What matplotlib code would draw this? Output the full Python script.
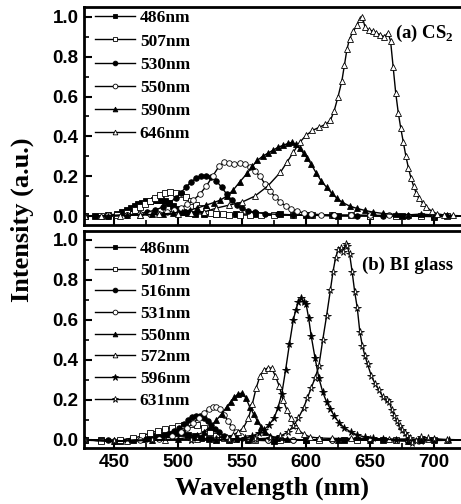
import matplotlib
matplotlib.use("Agg")
import matplotlib.pyplot as plt
from matplotlib.ticker import MultipleLocator
from matplotlib.font_manager import FontProperties

# ---------------- data: panel (a) CS2 ----------------
a_labels = ["486nm", "507nm", "530nm", "550nm", "590nm", "646nm"]

a486_x = [427, 435, 445, 452, 456, 460, 463, 466, 469, 472, 475, 478, 481, 484, 487, 490, 493, 496, 500, 504, 508, 513, 520, 530, 545, 560, 580, 600, 625, 650, 675, 700, 724]
a486_y = [0.0, 0.0, 0.005, 0.01, 0.02, 0.03, 0.04, 0.05, 0.06, 0.068, 0.075, 0.078, 0.08, 0.082, 0.08, 0.075, 0.065, 0.05, 0.035, 0.022, 0.015, 0.012, 0.01, 0.01, 0.01, 0.01, 0.008, 0.005, 0.0, 0.0, 0.0, -0.003, 0.0]

a507_x = [427, 440, 452, 460, 466, 470, 474, 478, 482, 486, 490, 494, 498, 502, 506, 510, 514, 518, 522, 526, 530, 535, 540, 548, 556, 565, 575, 590, 605, 620, 635, 650, 670, 690, 710, 724]
a507_y = [0.0, 0.0, 0.005, 0.015, 0.03, 0.045, 0.06, 0.075, 0.09, 0.105, 0.115, 0.12, 0.118, 0.11, 0.095, 0.075, 0.055, 0.038, 0.025, 0.017, 0.012, 0.008, 0.006, 0.005, 0.005, 0.004, 0.004, 0.004, 0.004, 0.003, 0.003, 0.002, 0.0, 0.0, 0.0, 0.0]

a530_x = [427, 445, 460, 470, 476, 482, 488, 493, 498, 502, 506, 510, 514, 518, 522, 526, 530, 534, 538, 542, 546, 550, 555, 560, 568, 578, 590, 605, 620, 640, 660, 680, 700, 724]
a530_y = [0.0, 0.0, 0.005, 0.012, 0.02, 0.03, 0.045, 0.065, 0.09, 0.115, 0.145, 0.17, 0.19, 0.2, 0.2, 0.195, 0.175, 0.145, 0.11, 0.08, 0.055, 0.038, 0.025, 0.018, 0.012, 0.008, 0.006, 0.004, 0.003, 0.002, 0.0, 0.0, 0.0, 0.0]

a550_x = [427, 445, 460, 470, 478, 485, 491, 497, 502, 507, 512, 517, 522, 527, 532, 536, 540, 544, 548, 552, 556, 560, 564, 568, 572, 576, 580, 584, 588, 593, 598, 604, 612, 622, 635, 650, 665, 680, 700, 724]
a550_y = [0.0, 0.003, 0.006, 0.008, 0.01, 0.012, 0.018, 0.028, 0.04, 0.058, 0.08, 0.11, 0.15, 0.2, 0.25, 0.27, 0.265, 0.26, 0.265, 0.26, 0.245, 0.225, 0.2, 0.16, 0.125, 0.095, 0.07, 0.05, 0.035, 0.024, 0.016, 0.01, 0.007, 0.005, 0.005, 0.004, 0.003, 0.002, 0.0, 0.0]

a590_x = [427, 445, 460, 470, 480, 488, 496, 503, 509, 515, 522, 528, 533, 538, 543, 548, 554, 558, 562, 566, 570, 574, 578, 582, 586, 589, 592, 595, 598, 601, 604, 608, 612, 616, 620, 624, 628, 634, 640, 646, 652, 660, 670, 680, 690, 700, 710, 724]
a590_y = [0.0, 0.0, 0.003, 0.006, 0.008, 0.01, 0.015, 0.022, 0.03, 0.04, 0.055, 0.068, 0.08, 0.1, 0.13, 0.17, 0.215, 0.25, 0.28, 0.3, 0.315, 0.33, 0.345, 0.355, 0.365, 0.37, 0.36, 0.34, 0.315, 0.29, 0.26, 0.215, 0.175, 0.145, 0.115, 0.09, 0.07, 0.05, 0.038, 0.028, 0.02, 0.013, 0.008, 0.006, 0.01, 0.005, 0.003, 0.0]

a646_x = [427, 440, 455, 470, 485, 500, 510, 520, 530, 540, 550, 560, 570, 580, 585, 590, 595, 600, 605, 610, 615, 619, 622, 625, 628, 630, 632, 634, 637, 640, 642, 644, 646, 649, 652, 655, 658, 661, 664, 666, 668, 670, 672, 674, 676, 678, 680, 682, 684, 686, 688, 691, 694, 698, 702, 708, 715, 724]
a646_y = [0.0, 0.0, 0.002, 0.005, 0.008, 0.01, 0.015, 0.02, 0.04, 0.055, 0.07, 0.1, 0.15, 0.22, 0.27, 0.32, 0.37, 0.405, 0.43, 0.445, 0.46, 0.48, 0.53, 0.6, 0.68, 0.76, 0.84, 0.89, 0.93, 0.96, 0.99, 1.0, 0.95, 0.935, 0.93, 0.92, 0.91, 0.9, 0.92, 0.88, 0.75, 0.62, 0.52, 0.44, 0.37, 0.3, 0.24, 0.19, 0.15, 0.115, 0.09, 0.065, 0.045, 0.025, 0.012, 0.005, 0.003, 0.0]

# ---------------- data: panel (b) BI glass ----------------
b_labels = ["486nm", "501nm", "516nm", "531nm", "550nm", "572nm", "596nm", "631nm"]

b486_x = [427, 440, 455, 465, 472, 478, 483, 488, 493, 498, 503, 508, 513, 518, 524, 530, 540, 555, 575, 600, 630, 660, 690, 724]
b486_y = [0.0, 0.0, -0.005, 0.0, 0.005, 0.01, 0.018, 0.025, 0.03, 0.035, 0.033, 0.027, 0.018, 0.01, 0.005, 0.0, 0.0, 0.0, -0.005, 0.0, 0.0, 0.0, 0.0, 0.0]

b501_x = [427, 440, 455, 465, 472, 478, 484, 490, 495, 500, 505, 510, 515, 520, 525, 530, 536, 545, 560, 580, 610, 640, 670, 700, 724]
b501_y = [0.0, -0.005, 0.0, 0.01, 0.02, 0.035, 0.045, 0.055, 0.062, 0.068, 0.075, 0.08, 0.075, 0.06, 0.04, 0.022, 0.01, 0.005, 0.0, 0.0, 0.0, 0.0, 0.0, 0.0, 0.0]

b516_x = [427, 445, 460, 475, 485, 492, 497, 501, 505, 508, 511, 514, 517, 520, 523, 526, 529, 532, 536, 540, 546, 555, 570, 590, 620, 650, 680, 724]
b516_y = [0.0, 0.0, -0.005, 0.005, 0.015, 0.03, 0.045, 0.06, 0.08, 0.1, 0.115, 0.122, 0.12, 0.11, 0.095, 0.075, 0.055, 0.038, 0.022, 0.012, 0.005, 0.0, 0.0, 0.0, 0.0, 0.0, -0.005, 0.0]

b531_x = [427, 450, 470, 485, 495, 502, 507, 512, 516, 520, 524, 527, 530, 533, 536, 539, 542, 545, 549, 554, 560, 570, 590, 620, 650, 680, 700, 724]
b531_y = [0.0, -0.005, 0.0, 0.005, 0.02, 0.04, 0.06, 0.085, 0.11, 0.135, 0.155, 0.165, 0.165, 0.155, 0.125, 0.095, 0.065, 0.04, 0.022, 0.01, 0.005, 0.0, 0.0, 0.0, 0.0, 0.0, 0.0, 0.0]

b550_x = [427, 450, 480, 500, 510, 515, 520, 525, 530, 534, 538, 541, 544, 547, 550, 553, 556, 559, 562, 565, 568, 572, 577, 585, 600, 625, 650, 680, 700, 724]
b550_y = [0.0, -0.005, 0.0, 0.005, 0.015, 0.025, 0.04, 0.065, 0.1, 0.13, 0.165, 0.19, 0.215, 0.23, 0.235, 0.21, 0.165, 0.13, 0.095, 0.065, 0.04, 0.022, 0.01, 0.005, 0.0, 0.0, 0.0, -0.005, 0.005, 0.0]

b572_x = [427, 460, 490, 515, 530, 538, 543, 547, 551, 555, 558, 561, 564, 567, 570, 573, 576, 579, 582, 585, 588, 591, 594, 598, 603, 610, 620, 635, 650, 665, 680, 695, 710, 724]
b572_y = [0.0, -0.005, 0.0, 0.005, 0.01, 0.015, 0.025, 0.04, 0.06, 0.11, 0.18, 0.26, 0.32, 0.35, 0.36, 0.36, 0.32, 0.27, 0.2, 0.15, 0.11, 0.075, 0.05, 0.03, 0.015, 0.01, 0.008, 0.008, 0.008, 0.005, 0.005, 0.003, 0.0, 0.0]

b596_x = [427, 450, 480, 510, 530, 545, 552, 558, 563, 567, 571, 575, 578, 581, 584, 587, 590, 592, 594, 596, 598, 600, 602, 604, 607, 610, 613, 616, 619, 622, 626, 630, 635, 640, 646, 652, 660, 670, 680, 690, 700, 712, 724]
b596_y = [0.0, -0.005, 0.0, 0.0, 0.0, 0.005, 0.01, 0.02, 0.035, 0.05, 0.075, 0.11, 0.16, 0.23, 0.35, 0.48, 0.6, 0.65, 0.69, 0.71, 0.69, 0.68, 0.61, 0.52, 0.41, 0.31, 0.24, 0.19, 0.155, 0.12, 0.085, 0.06, 0.04, 0.025, 0.015, 0.008, 0.005, 0.0, 0.0, -0.005, 0.0, 0.0, 0.0]

b631_x = [427, 450, 480, 510, 540, 560, 572, 580, 586, 590, 594, 598, 601, 604, 607, 610, 613, 616, 619, 621, 623, 625, 627, 629, 631, 632, 634, 636, 638, 640, 642, 644, 646, 648, 651, 654, 657, 660, 663, 665, 667, 669, 671, 673, 675, 677, 679, 681, 683, 686, 690, 695, 700, 710, 724]
b631_y = [0.0, -0.005, 0.0, 0.0, 0.0, 0.005, 0.01, 0.02, 0.04, 0.07, 0.11, 0.16, 0.21, 0.26, 0.31, 0.37, 0.5, 0.62, 0.75, 0.84, 0.91, 0.95, 0.96, 0.94, 0.98, 0.97, 0.93, 0.84, 0.74, 0.66, 0.54, 0.47, 0.42, 0.38, 0.32, 0.28, 0.25, 0.215, 0.2, 0.19, 0.15, 0.12, 0.095, 0.07, 0.05, 0.035, 0.02, 0.01, -0.015, -0.005, 0.015, 0.01, 0.005, 0.0, 0.0]

a_series = [(a486_x, a486_y), (a507_x, a507_y), (a530_x, a530_y),
            (a550_x, a550_y), (a590_x, a590_y), (a646_x, a646_y)]
a_styles = [("s", True), ("s", False), ("o", True), ("o", False), ("^", True), ("^", False)]

b_series = [(b486_x, b486_y), (b501_x, b501_y), (b516_x, b516_y), (b531_x, b531_y),
            (b550_x, b550_y), (b572_x, b572_y), (b596_x, b596_y), (b631_x, b631_y)]
b_styles = [("s", True), ("s", False), ("o", True), ("o", False),
            ("^", True), ("^", False), ("*", True), ("*", False)]

xticks = [450, 500, 550, 600, 650, 700]
yticks = [0.0, 0.2, 0.4, 0.6, 0.8, 1.0]

# ---------------- figure ----------------
plt.rcParams['mathtext.fontset'] = 'custom'
plt.rcParams['mathtext.rm'] = 'Liberation Serif:bold'

W, H = 461, 504
fig = plt.figure(figsize=(W / 100, H / 100), dpi=100)

def px_ax(left, top, right, bottom):
    return [left / W, 1 - bottom / H, (right - left) / W, (bottom - top) / H]

x0, x1 = 426.5, 726
ax_right = 84 + (x1 - x0) * 1.28
axA = fig.add_axes(px_ax(84, 7, ax_right, 225))
axB = fig.add_axes(px_ax(84, 231, ax_right, 448))

tickfont = dict(family='Liberation Sans', weight='bold', size=13.5)
legfont = dict(family='Liberation Serif', weight='bold', size=12.5)

def draw(ax, series, styles, labels, ylim, leg_anchor_y, spacing):
    for (xs, ys), (m, filled), lab in zip(series, styles, labels):
        ms = 5.5 if m == '*' else 4
        ax.plot(xs, ys, color='black', lw=1.0, marker=m, ms=ms,
                mfc='black' if filled else 'white', mec='black', mew=0.6,
                label=lab)
    ax.set_xlim(x0, x1)
    ax.set_ylim(*ylim)
    ax.set_xticks(xticks)
    ax.set_yticks(yticks)
    ax.set_yticklabels([f"{v:.1f}" for v in yticks])
    ax.xaxis.set_minor_locator(MultipleLocator(25))
    ax.yaxis.set_minor_locator(MultipleLocator(0.1))
    ax.tick_params(which='major', direction='in', length=6, width=1.5,
                   top=False, right=False, pad=4)
    ax.tick_params(which='minor', direction='in', length=3.5, width=1.2,
                   top=False, right=False)
    ax.tick_params(axis='x', which='major', pad=4)
    for lab in ax.get_xticklabels() + ax.get_yticklabels():
        lab.set_fontproperties(FontProperties(**tickfont))
    for sp in ax.spines.values():
        sp.set_linewidth(2.0)
    ax.legend(loc='upper left', bbox_to_anchor=(0.028, leg_anchor_y),
              frameon=False, prop=legfont, handlelength=2.3,
              handletextpad=0.3, labelspacing=spacing, borderpad=0,
              borderaxespad=0, numpoints=1, markerscale=0.85)

draw(axA, a_series, a_styles, a_labels, (-0.045, 1.05), 0.985, 0.4)
draw(axB, b_series, b_styles, b_labels, (-0.04, 1.045), 0.955, 0.32)
axA.tick_params(axis='x', labelbottom=False)

axA.text(0.812, 0.881, r"(a) CS$_\mathregular{2}$", transform=axA.transAxes,
         family='Liberation Serif', weight='bold', size=13.5, va='center', ha='left')
axB.text(0.726, 0.843, "(b) BI glass", transform=axB.transAxes,
         family='Liberation Serif', weight='bold', size=13.5, va='center', ha='left')

fig.text(272 / W, 1 - 488 / H, "Wavelength (nm)", family='Liberation Serif',
         weight='bold', size=19, ha='center', va='center')
fig.text(22 / W, 1 - 220 / H, "Intensity (a.u.)", family='Liberation Serif',
         weight='bold', size=19, ha='center', va='center', rotation=90)

fig.savefig("out.png", dpi=100)
